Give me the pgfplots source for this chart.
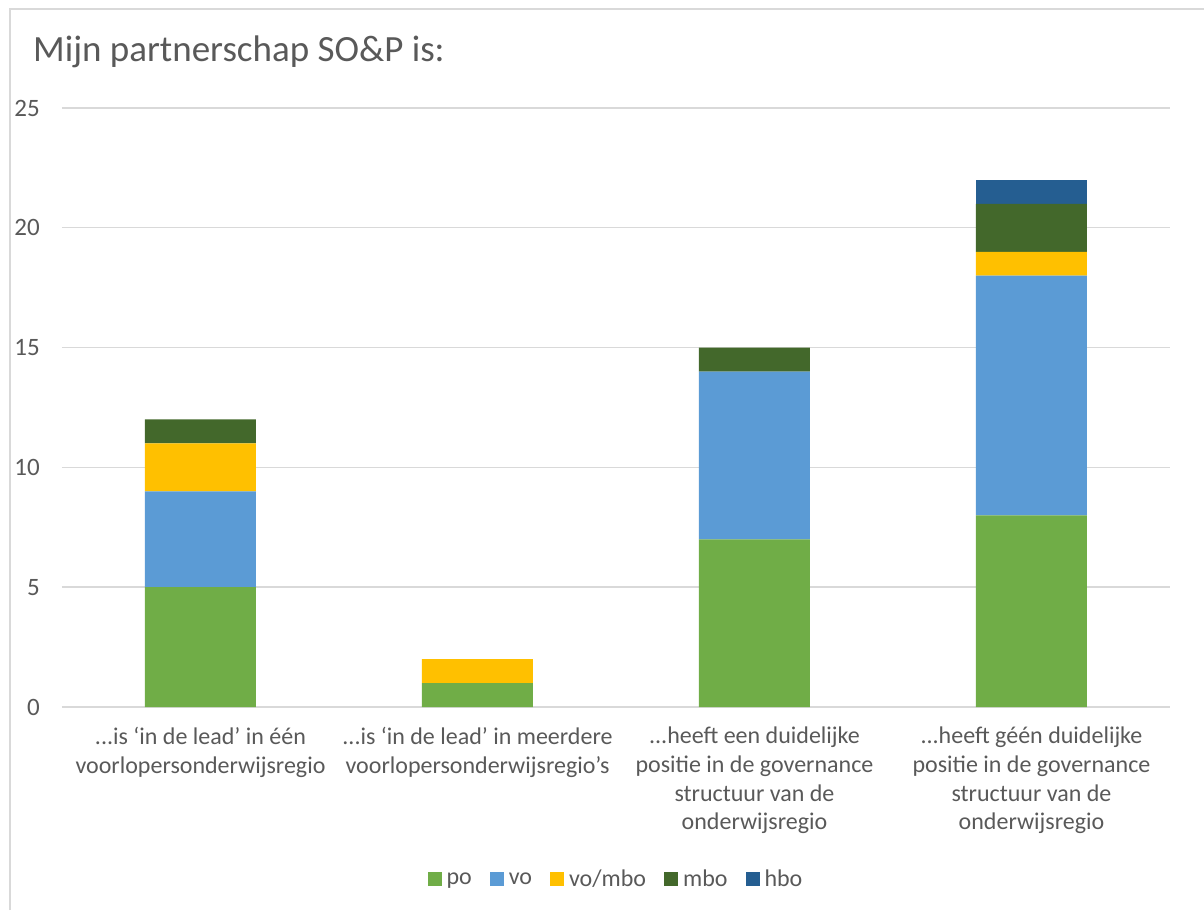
\documentclass[border=0pt]{standalone}
\usepackage{fontspec}
\setmainfont{Carlito}
\usepackage{pgfplots}
\pgfplotsset{compat=1.18}

\definecolor{cpo}{HTML}{70AD47}
\definecolor{cvo}{HTML}{5B9BD5}
\definecolor{cvombo}{HTML}{FFC000}
\definecolor{cmbo}{HTML}{43682B}
\definecolor{chbo}{HTML}{255E91}
\definecolor{txt}{HTML}{595959}
\definecolor{gridc}{HTML}{D9D9D9}
\newcommand\dd{...}

\begin{document}
\begin{tikzpicture}
\useasboundingbox (0,0) rectangle (1204pt,910pt);
% chart frame (only top and left edges are visible)
\draw[gridc, line width=1.5pt] (10pt,0pt) -- (10pt,901pt) -- (1204pt,901pt);
\node[anchor=base west, inner sep=0pt, text=txt, font=\fontsize{37}{44}\selectfont]
    at (33pt,848pt) {Mijn partnerschap SO\&P is:};

\begin{axis}[
    at={(62pt,203pt)}, anchor=south west,
    scale only axis,
    width=1108pt, height=599pt,
    ybar stacked,
    bar width=111pt,
    xmin=-0.5, xmax=3.5,
    ymin=0, ymax=25,
    ytick={0,5,10,15,20,25},
    xtick={0,1,2,3},
    xticklabels={
        {\dd{}is ‘in de lead’ in één\\voorlopersonderwijsregio},
        {\dd{}is ‘in de lead’ in meerdere\\voorlopersonderwijsregio’s},
        {\dd{}heeft een duidelijke\\positie in de governance\\structuur van de\\onderwijsregio},
        {\dd{}heeft géén duidelijke\\positie in de governance\\structuur van de\\onderwijsregio}},
    axis line style={draw=none},
    major tick style={draw=none},
    ymajorgrids=true,
    grid style={gridc, line width=1.4pt},
    /pgf/number format/assume math mode=true,
    yticklabel style={anchor=east, inner sep=0pt, xshift=-22pt, text=txt,
        font=\fontsize{25}{30}\selectfont},
    xticklabel style={anchor=north, align=center, inner sep=0pt, yshift=-20pt, text=txt,
        font=\fontsize{24}{28.7}\selectfont},
    legend columns=-1,
    legend style={at={(0.5,-0.2871)}, anchor=center, draw=none, fill=none,
        font=\fontsize{24}{29}\selectfont, text=txt,
        /tikz/every odd column/.append style={column sep=3pt},
        /tikz/every even column/.append style={column sep=16pt}},
    legend image code/.code={\fill[#1] (0pt,-7pt) rectangle (14pt,7pt);},
]
\addplot[fill=cpo, draw=none] coordinates {(0,5) (1,1) (2,7) (3,8)};
\addplot[fill=cvo, draw=none] coordinates {(0,4) (1,0) (2,7) (3,10)};
\addplot[fill=cvombo, draw=none] coordinates {(0,2) (1,1) (2,0) (3,1)};
\addplot[fill=cmbo, draw=none] coordinates {(0,1) (1,0) (2,1) (3,2)};
\addplot[fill=chbo, draw=none] coordinates {(0,0) (1,0) (2,0) (3,1)};
\legend{po, vo, vo/mbo, mbo, hbo}
\end{axis}
\end{tikzpicture}
\end{document}
